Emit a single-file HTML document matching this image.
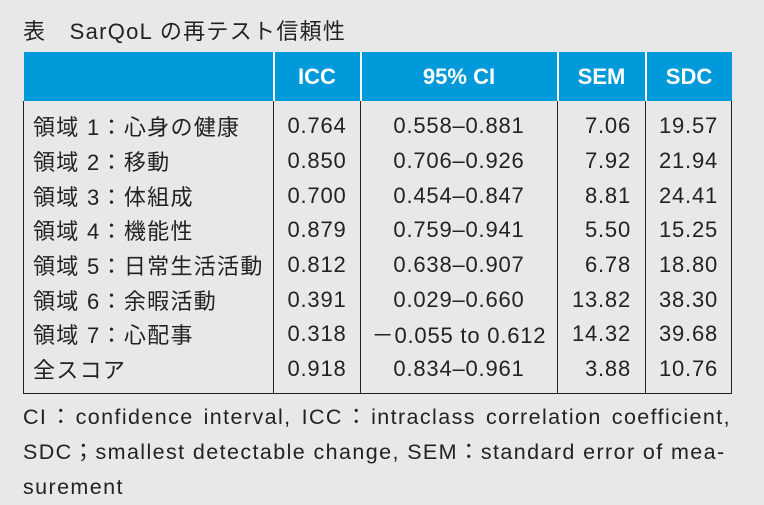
<!DOCTYPE html>
<html><head><meta charset="utf-8"><style>
body{margin:0;width:764px;height:505px;background:#e8e8ea;position:relative;overflow:hidden;font-family:"Liberation Sans","Noto Sans CJK JP",sans-serif;color:#222;}
.t{position:absolute;left:23px;top:14px;font-size:22px;white-space:nowrap;letter-spacing:1.3px;}
table{position:absolute;left:23px;top:52px;border-collapse:collapse;font-size:22px;table-layout:fixed;}
th{background:#0099d9;color:#fff;height:49px;padding:0;font-weight:bold;border-left:2px solid #fff;text-align:center;font-size:22px;}
th:first-child{border-left:none}
td{height:34.7px;padding:0;border-left:1.5px solid #222;text-align:center;white-space:nowrap;letter-spacing:0.8px;}
td:first-child{letter-spacing:1.3px}
tr.f td{padding-top:8px}
tr.l td{padding-bottom:6px;border-bottom:1.5px solid #222}
td:first-child{text-align:left;padding-left:9px;}
td.r{text-align:right;padding-right:14px}
td:last-child{border-right:1.5px solid #222}
.n{position:absolute;left:23px;top:400px;width:708px;font-size:21.5px;line-height:35px;letter-spacing:1.4px;}
.n div{white-space:nowrap;}
.j{text-align:justify;text-align-last:justify;}
</style></head><body>
<div class="t">表　SarQoL の再テスト信頼性</div>
<table>
<colgroup><col style="width:250px"><col style="width:87px"><col style="width:197px"><col style="width:88px"><col style="width:86px"></colgroup>
<tr><th></th><th>ICC</th><th>95% CI</th><th>SEM</th><th>SDC</th></tr>
<tr class="f"><td>領域 1：心身の健康</td><td>0.764</td><td>0.558‒0.881</td><td class="r">7.06</td><td>19.57</td></tr>
<tr><td>領域 2：移動</td><td>0.850</td><td>0.706‒0.926</td><td class="r">7.92</td><td>21.94</td></tr>
<tr><td>領域 3：体組成</td><td>0.700</td><td>0.454‒0.847</td><td class="r">8.81</td><td>24.41</td></tr>
<tr><td>領域 4：機能性</td><td>0.879</td><td>0.759‒0.941</td><td class="r">5.50</td><td>15.25</td></tr>
<tr><td>領域 5：日常生活活動</td><td>0.812</td><td>0.638‒0.907</td><td class="r">6.78</td><td>18.80</td></tr>
<tr><td>領域 6：余暇活動</td><td>0.391</td><td>0.029‒0.660</td><td class="r">13.82</td><td>38.30</td></tr>
<tr><td>領域 7：心配事</td><td>0.318</td><td>－0.055 to 0.612</td><td class="r">14.32</td><td>39.68</td></tr>
<tr class="l"><td>全スコア</td><td>0.918</td><td>0.834‒0.961</td><td class="r">3.88</td><td>10.76</td></tr>
</table>
<div class="n">
<div class="j">CI：confidence interval, ICC：intraclass correlation coefficient,</div>
<div class="j" style="width:682px">SDC；smallest detectable change, SEM：standard error of mea-</div>
<div>surement</div>
</div>
</body></html>
